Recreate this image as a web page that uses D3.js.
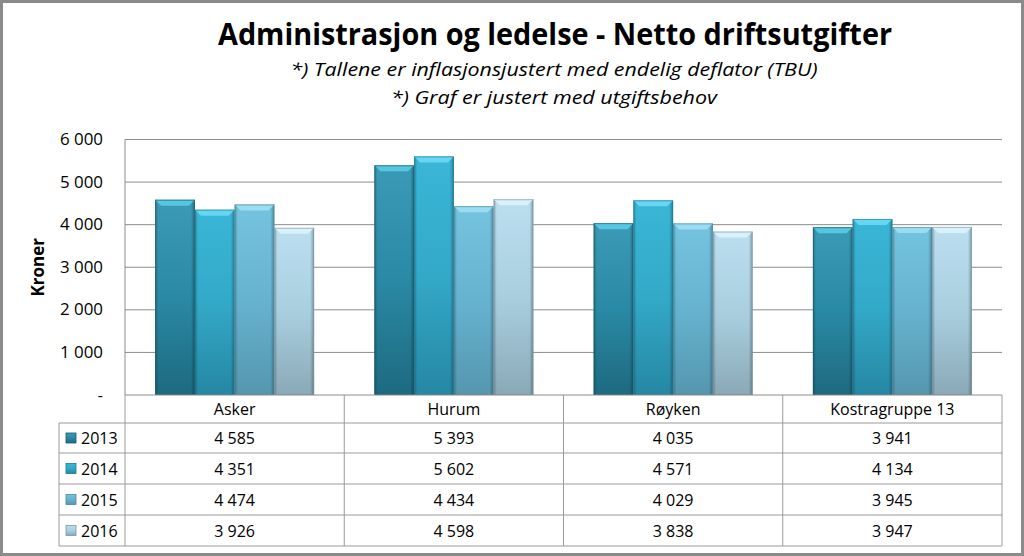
<!DOCTYPE html>
<html><head><meta charset="utf-8">
<script src="https://cdn.jsdelivr.net/npm/d3@7"></script>
<style>html,body{margin:0;padding:0;background:#fff;}svg{display:block;font-family:"Open Sans","DejaVu Sans",sans-serif;}</style>
</head><body><svg id="c" width="1024" height="556"></svg>
<script>
const categories = ["Asker", "Hurum", "Røyken", "Kostragruppe 13"];
const years = ["2013", "2014", "2015", "2016"];
const v2013 = [4585, 5393, 4035, 3941];
const v2014 = [4351, 5602, 4571, 4134];
const v2015 = [4474, 4434, 4029, 3945];
const v2016 = [3926, 4598, 3838, 3947];
const yTicks = [0, 1000, 2000, 3000, 4000, 5000, 6000];
const title = "Administrasjon og ledelse - Netto driftsutgifter";
const subtitle1 = "*) Tallene er inflasjonsjustert med endelig deflator (TBU)";
const subtitle2 = "*) Graf er justert med utgiftsbehov";
const yTitle = "Kroner";

(function () {
const series = [v2013, v2014, v2015, v2016];
const palette = [
  {top:"#3b9bb6", mid:"#2a89a4", bot:"#1d6a80", cap:"#55c7e2", edge:"#17586b"},
  {top:"#3ab6d6", mid:"#33a9c8", bot:"#2587a3", cap:"#66d6f2", edge:"#1f7a93"},
  {top:"#74c3df", mid:"#66b3d0", bot:"#5596ae", cap:"#9adcf2", edge:"#4b879c"},
  {top:"#bcdff0", mid:"#a9cfdf", bot:"#8aa9b7", cap:"#d8f1fa", edge:"#7a98a6"}
];
const fmt = v => v === 0 ? "-" : d3.format(",")(v).replace(/,/g, " ");

const svg = d3.select("#c");
const W = 1024, H = 556;
const pL = 125, pR = 1002, pT = 139.5, pB = 395;
const tableRows = [395, 423, 453, 484, 515, 546];
const legendLeft = 59;
const fs = 16;

const x = d3.scaleBand().domain(categories).range([pL, pR]).paddingInner(0.275).paddingOuter(0.1375);
const xs = d3.scaleBand().domain(years).range([0, x.bandwidth()]).padding(0);
const y = d3.scaleLinear().domain([0, 6000]).range([pB, pT]);

svg.append("rect").attr("x", 1.5).attr("y", 1.5).attr("width", W - 3).attr("height", H - 3)
  .attr("fill", "#fff").attr("stroke", "#8a8a8a").attr("stroke-width", 3);

svg.append("text").attr("x", 555).attr("y", 45).attr("text-anchor", "middle")
  .attr("font-size", 30).attr("font-weight", "bold").attr("fill", "#000")
  .attr("textLength", 674).attr("lengthAdjust", "spacingAndGlyphs").text(title);
svg.append("text").attr("x", 554).attr("y", 76).attr("text-anchor", "middle")
  .attr("font-size", 19).attr("font-style", "italic").attr("fill", "#000")
  .attr("textLength", 527).attr("lengthAdjust", "spacingAndGlyphs").text(subtitle1);
svg.append("text").attr("x", 554).attr("y", 104).attr("text-anchor", "middle")
  .attr("font-size", 19).attr("font-style", "italic").attr("fill", "#000")
  .attr("textLength", 326).attr("lengthAdjust", "spacingAndGlyphs").text(subtitle2);

const defs = svg.append("defs");
palette.forEach((p, i) => {
  const g = defs.append("linearGradient").attr("id", "gv" + i).attr("x1", 0).attr("y1", 0).attr("x2", 0).attr("y2", 1);
  g.append("stop").attr("offset", "0%").attr("stop-color", p.top);
  g.append("stop").attr("offset", "50%").attr("stop-color", p.mid);
  g.append("stop").attr("offset", "100%").attr("stop-color", p.bot);
  const h = defs.append("linearGradient").attr("id", "gh" + i).attr("x1", 0).attr("y1", 0).attr("x2", 1).attr("y2", 0);
  h.append("stop").attr("offset", "0%").attr("stop-color", "#000").attr("stop-opacity", 0.25);
  h.append("stop").attr("offset", "8%").attr("stop-color", "#000").attr("stop-opacity", 0.0);
  h.append("stop").attr("offset", "90%").attr("stop-color", "#000").attr("stop-opacity", 0.0);
  h.append("stop").attr("offset", "100%").attr("stop-color", "#000").attr("stop-opacity", 0.3);
});

svg.append("g").selectAll("line").data(yTicks.filter(t => t > 0)).join("line")
  .attr("x1", pL).attr("x2", pR).attr("y1", d => y(d)).attr("y2", d => y(d))
  .attr("stroke", "#8c8c8c").attr("stroke-width", 1);
svg.append("line").attr("x1", pL).attr("x2", pL).attr("y1", pT).attr("y2", pB)
  .attr("stroke", "#8c8c8c");

const yAxis = d3.axisLeft(y).tickValues(yTicks).tickFormat(fmt).tickSize(0).tickPadding(22);
const ya = svg.append("g").attr("transform", `translate(${pL},0)`).call(yAxis);
ya.select(".domain").remove();
ya.selectAll("text").attr("font-size", fs).attr("fill", "#000")
  .attr("font-family", "'Open Sans','DejaVu Sans',sans-serif")
  .attr("textLength", d => d === 0 ? null : 43).attr("lengthAdjust", "spacingAndGlyphs");

svg.append("text").attr("transform", `translate(44,${(pT + pB) / 2}) rotate(-90)`)
  .attr("text-anchor", "middle").attr("font-size", 17).attr("font-weight", "bold").text(yTitle);

const groups = svg.append("g").selectAll("g").data(categories).join("g")
  .attr("transform", d => `translate(${x(d)},0)`);
years.forEach((yr, si) => {
  const bw = xs.bandwidth();
  const bars = groups.append("g");
  bars.append("rect").attr("x", xs(yr)).attr("y", (d, ci) => y(series[si][ci]))
    .attr("width", bw).attr("height", (d, ci) => y(0) - y(series[si][ci]))
    .attr("fill", `url(#gv${si})`);
  bars.append("rect").attr("x", xs(yr)).attr("y", (d, ci) => y(series[si][ci]))
    .attr("width", bw).attr("height", (d, ci) => y(0) - y(series[si][ci]))
    .attr("fill", `url(#gh${si})`);
  bars.append("path").attr("d", (d, ci) => {
    const x0 = xs(yr), x1 = xs(yr) + bw, yt = y(series[si][ci]);
    return `M${x0},${yt}L${x1},${yt}L${x1 - 6},${yt + 6}L${x0 + 6},${yt + 6}Z`;
  }).attr("fill", palette[si].cap);
  bars.append("rect").attr("x", xs(yr) + 0.5).attr("y", (d, ci) => y(series[si][ci]) + 0.5)
    .attr("width", bw - 1).attr("height", (d, ci) => y(0) - y(series[si][ci]) - 1)
    .attr("fill", "none").attr("stroke", palette[si].edge).attr("stroke-width", 1).attr("stroke-opacity", 0.6);
});

const tb = svg.append("g");
const lineColor = "#9a9a9a";
tableRows.forEach((ty, i) => {
  tb.append("line").attr("x1", i === 0 ? pL : legendLeft).attr("x2", pR)
    .attr("y1", ty).attr("y2", ty).attr("stroke", i === 0 ? "#8c8c8c" : lineColor);
});
const colEdges = categories.map(c => x(c) - x.step() * x.paddingInner() / 2);
colEdges.push(pR);
colEdges.forEach(cx => {
  tb.append("line").attr("x1", cx).attr("x2", cx).attr("y1", tableRows[0]).attr("y2", tableRows[5]).attr("stroke", lineColor);
});
tb.append("line").attr("x1", legendLeft).attr("x2", legendLeft).attr("y1", tableRows[1]).attr("y2", tableRows[5]).attr("stroke", lineColor);

tb.selectAll("text.h").data(categories).join("text").attr("class", "h")
  .attr("x", d => x(d) + x.bandwidth() / 2).attr("y", (tableRows[0] + tableRows[1]) / 2 + 6)
  .attr("text-anchor", "middle").attr("font-size", fs).attr("fill", "#000").text(d => d);
years.forEach((yr, si) => {
  const cy = (tableRows[si + 1] + tableRows[si + 2]) / 2 + 6;
  tb.append("rect").attr("x", 66).attr("y", cy - 11).attr("width", 10).attr("height", 10)
    .attr("fill", `url(#gv${si})`).attr("stroke", palette[si].edge).attr("stroke-width", 0.8);
  tb.append("text").attr("x", 81).attr("y", cy).attr("font-size", fs).attr("fill", "#000").text(yr);
  tb.selectAll("text.v" + si).data(categories).join("text").attr("class", "v" + si)
    .attr("x", d => x(d) + x.bandwidth() / 2).attr("y", cy)
    .attr("text-anchor", "middle").attr("font-size", fs).attr("fill", "#000")
    .text((d, ci) => fmt(series[si][ci]));
});
})();
</script></body></html>
